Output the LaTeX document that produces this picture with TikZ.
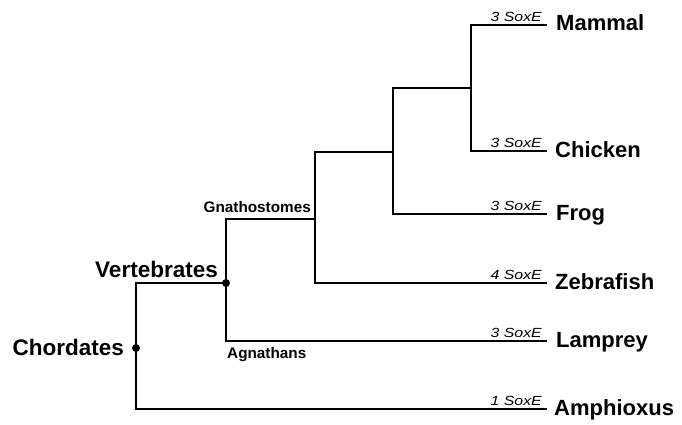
\documentclass[tikz,border=0pt]{standalone}
\usepackage{fontspec}
\setmainfont{Liberation Sans}
\begin{document}
\begin{tikzpicture}[x=1pt,y=-1pt,
  branch/.style={line width=2.2pt, line join=miter, line cap=rect},
  leaflab/.style={anchor=base west, inner sep=0pt, font=\fontsize{22}{24}\selectfont\bfseries},
  cladelab/.style={inner sep=0pt, font=\fontsize{22.5}{24}\selectfont\bfseries},
  grouplab/.style={inner sep=0pt, font=\fontsize{15.3}{17}\selectfont\bfseries},
  soxlab/.style={anchor=base east, inner sep=0pt, xscale=1.2, font=\fontsize{13.2}{14}\selectfont\itshape},
  nodedot/.style={circle, fill=black, inner sep=0pt, minimum size=8pt}]
\useasboundingbox (0,0) rectangle (682,424);
% leaf tips
\coordinate (tM) at (546,25);
\coordinate (tC) at (546,151);
\coordinate (tF) at (546,214);
\coordinate (tZ) at (546,283);
\coordinate (tL) at (546,341);
\coordinate (tA) at (546,409);
% internal junctions
\coordinate (mcT) at (471,25);
\coordinate (mcB) at (471,151);
\coordinate (mcM) at (471,88);
\coordinate (fT) at (393,88);
\coordinate (fB) at (393,214);
\coordinate (fM) at (393,152);
\coordinate (zT) at (315,152);
\coordinate (zB) at (315,283);
\coordinate (zM) at (315,219);
\coordinate (gT) at (226,219);
\coordinate (gB) at (226,341);
\coordinate (vT) at (136,283);
\coordinate (vB) at (136,409);
% branches
\draw[branch] (tM) -- (mcT) -- (mcB) -- (tC);
\draw[branch] (mcM) -- (fT) -- (fB) -- (tF);
\draw[branch] (fM) -- (zT) -- (zB) -- (tZ);
\draw[branch] (zM) -- (gT) -- (gB) -- (tL);
\node[nodedot] (vert) at (226,283) {};
\draw[branch] (vert.center) -- (vT) -- (vB) -- (tA);
\node[nodedot] (chord) at (136,348) {};
% leaf labels
\node[leaflab] (Mammal) at (556,30) {Mammal};
\node[leaflab] (Chicken) at (555,157) {Chicken};
\node[leaflab] (Frog) at (556,220) {Frog};
\node[leaflab] (Zebrafish) at (555,289) {Zebrafish};
\node[leaflab] (Lamprey) at (556,347) {Lamprey};
\node[leaflab] (Amphioxus) at (554,415) {Amphioxus};
% SoxE counts
\node[soxlab] (sM) at (542,21) {3 SoxE};
\node[soxlab] (sC) at (542,147) {3 SoxE};
\node[soxlab] (sF) at (542,210) {3 SoxE};
\node[soxlab] (sZ) at (542,279) {4 SoxE};
\node[soxlab] (sL) at (542,337) {3 SoxE};
\node[soxlab] (sA) at (542,405) {1 SoxE};
% clade labels
\node[cladelab, anchor=base east] (Chordates) at (124,355) {Chordates};
\node[cladelab, anchor=base east] (Vertebrates) at (218,277) {Vertebrates};
\node[grouplab, anchor=base east] (Gnathostomes) at (311,212) {Gnathostomes};
\node[grouplab, anchor=base west] (Agnathans) at (227,358) {Agnathans};
\end{tikzpicture}
\end{document}
